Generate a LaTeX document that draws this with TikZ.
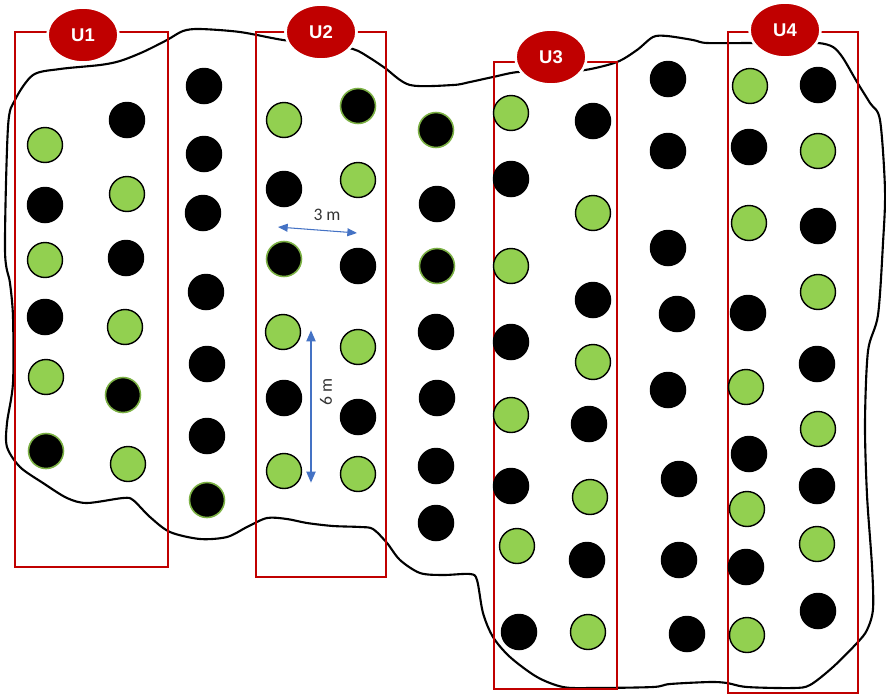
\documentclass[tikz,border=0pt]{standalone}
\usepackage{fontspec}
\setmainfont{Liberation Sans}
\newfontfamily\calib{Carlito}
\usetikzlibrary{arrows.meta,shapes.geometric}
\definecolor{plotred}{HTML}{C00000}
\definecolor{leafgreen}{HTML}{92D050}
\definecolor{arrowblue}{HTML}{4472C4}

\begin{document}
\begin{tikzpicture}[x=0.02cm, y=-0.02cm,
  gplant/.style={circle, minimum size=0.7cm, inner sep=0pt, fill=leafgreen, draw=black, line width=0.8pt},
  bplant/.style={circle, minimum size=0.73cm, inner sep=0pt, fill=black},
  bgplant/.style={circle, minimum size=0.7cm, inner sep=0pt, fill=black, draw=leafgreen!85!black, line width=0.9pt},
  unitlabel/.style={ellipse, minimum width=1.42cm, minimum height=1.1cm, inner sep=0pt,
    fill=plotred, draw=white, line width=1.5pt, text=white, font=\bfseries\fontsize{10.5}{12}\selectfont},
  unitbox/.style={draw=plotred, line width=1.1pt},
  dimtext/.style={text=black!80, font=\calib\fontsize{10}{12}\selectfont, inner sep=1pt}]
  \useasboundingbox (0,0) rectangle (886,694);

  % field outline
  \draw[line width=1.2pt] plot[smooth cycle, tension=0.5] coordinates {
    (8,127) (15,100) (33,75) (60,69) (100,65) (120,61) (143,52) (167,40) (183,31)
    (200,29) (240,32) (283,40) (320,44) (353,49) (370,58) (385,68) (410,85)
    (453,85) (470,82) (493,77) (518,72) (550,72) (585,70) (617,62) (637,50)
    (653,37) (667,36) (693,40) (707,43) (750,43) (785,43) (818,43) (833,47)
    (843,58) (857,82) (870,103) (880,120) (885,190) (883,243) (878,315)
    (868,351) (865,423) (867,495) (872,566) (873,609) (867,630) (857,643)
    (833,667) (810,685) (793,688) (747,687) (727,683) (710,682) (670,684)
    (653,687) (593,688) (563,687) (537,677) (510,657) (493,637) (483,613)
    (477,580) (470,574) (443,575) (420,573) (400,560) (387,543) (373,529)
    (360,527) (333,526) (307,523) (287,519) (267,518) (247,527) (227,537)
    (200,539) (170,532) (150,517) (133,500) (123,498) (87,503) (67,498)
    (43,483) (20,467) (7,447) (7,423) (13,383) (13,317) (10,283) (5,250)};

  % sampling units
  \draw[unitbox] (15,32) rectangle (168,567);
  \draw[unitbox] (256,32) rectangle (386,577);
  \draw[unitbox] (494,62) rectangle (617,689);
  \draw[unitbox] (728,32) rectangle (858,693);

  % plants
  \foreach \px/\py/\kind [count=\n] in {
    45/145/gplant, 45/205/bplant, 45/260/gplant, 45/317/bplant, 46/377/gplant, 46/451/bgplant,
    127/120/bplant, 127/194/gplant, 126/258/bplant, 125/327/gplant, 123/395/bgplant, 128/464/gplant,
    204/86/bplant, 204/154/bplant, 203/213/bplant, 206/292/bplant, 207/364/bplant, 207/436/bplant, 207/500/bgplant,
    284/120/gplant, 284/189/bplant, 284/259/bgplant, 283/332/gplant, 284/398/bplant, 284/471/gplant,
    358/106/bgplant, 358/180/gplant, 358/266/bplant, 358/347/gplant, 358/417/bplant, 358/474/gplant,
    436/130/bgplant, 437/204/bplant, 437/266/bgplant, 436/332/bplant, 437/398/bplant, 436/466/bplant, 436/523/bplant,
    511/113/gplant, 511/179/bplant, 511/266/gplant, 511/342/bplant, 511/415/gplant, 511/486/bplant, 517/546/gplant, 519/632/bplant,
    593/121/bplant, 593/213/gplant, 593/300/bplant, 593/362/gplant, 589/424/bplant, 590/497/gplant, 587/560/bplant, 588/632/gplant,
    668/79/bplant, 668/151/bplant, 668/248/bplant, 677/314/bplant, 668/390/bplant, 679/479/bplant, 679/560/bplant, 687/634/bplant,
    750/86/gplant, 749/147/bplant, 749/223/gplant, 748/313/bplant, 746/387/gplant, 749/454/bplant, 747/509/gplant, 746/567/bplant, 747/635/gplant,
    818/85/bplant, 818/151/gplant, 818/226/bplant, 818/292/gplant, 817/364/bplant, 818/429/gplant, 817/486/bplant, 817/544/gplant, 818/611/bplant}
    \node[\kind] (p\n) at (\px,\py) {};

  % unit labels
  \node[unitlabel] (u1) at (83,35) {U1};
  \node[unitlabel] (u2) at (321,32) {U2};
  \node[unitlabel] (u3) at (551,57) {U3};
  \node[unitlabel] (u4) at (785,30) {U4};

  % spacing
  \coordinate (w3) at (278,227);
  \coordinate (e3) at (357,233);
  \draw[arrowblue, line width=0.6pt, {Triangle[length=5.5pt,width=4.5pt]}-{Triangle[length=5.5pt,width=4.5pt]}] (w3) -- (e3);
  \node[dimtext] (d3) at (327,215) {3 m};
  \coordinate (n6) at (311,330);
  \coordinate (s6) at (311,483);
  \draw[arrowblue, line width=1.5pt, {Triangle[length=6.5pt,width=5pt]}-{Triangle[length=6.5pt,width=5pt]}] (n6) -- (s6);
  \node[dimtext, rotate=90] (d6) at (326,392) {6 m};
\end{tikzpicture}
\end{document}
